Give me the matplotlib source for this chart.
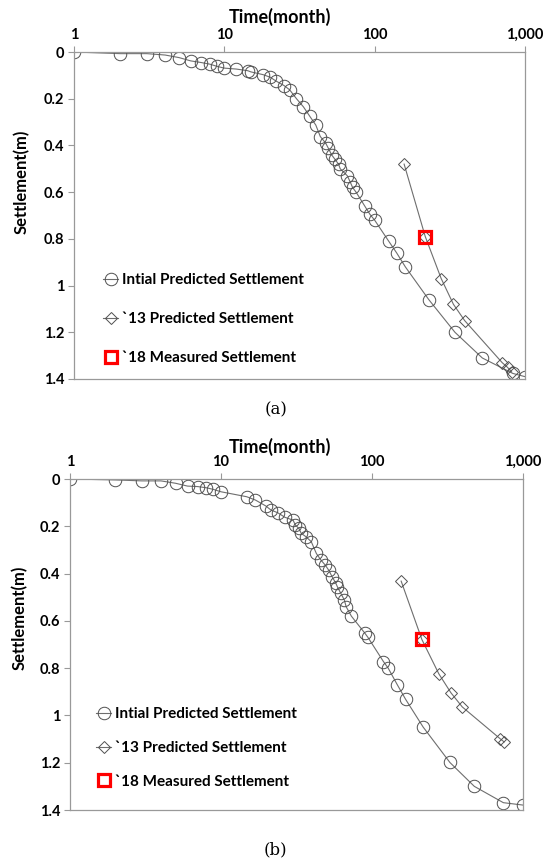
import matplotlib
matplotlib.use("Agg")
import matplotlib.pyplot as plt
from matplotlib.ticker import FixedLocator, FixedFormatter

plt.rcParams['font.family'] = ['Lato', 'DejaVu Sans']

# panel (a) data
a_init_t = [1, 2.03, 3.05, 4.04, 5.0, 5.97, 7.0, 8.0, 9.0, 10, 12, 14.3, 15, 18.1, 20.2, 21.9, 25, 27.2,
            30.2, 33.6, 37, 40.6, 43.5, 47.2, 49, 51.7, 54.5, 57.5, 59, 65.8, 68.7, 71.3, 75.2, 86, 93,
            100, 124, 140, 160, 229, 342, 520, 829, 1000]
a_init_s = [0, 0.007, 0.007, 0.013, 0.024, 0.038, 0.045, 0.052, 0.062, 0.069, 0.073, 0.080, 0.085,
            0.097, 0.108, 0.123, 0.144, 0.162, 0.2, 0.235, 0.275, 0.313, 0.362, 0.39, 0.41, 0.44, 0.46,
            0.48, 0.50, 0.53, 0.556, 0.58, 0.60, 0.66, 0.695, 0.72, 0.81, 0.86, 0.92, 1.06, 1.20, 1.31,
            1.376, 1.39]
a_pred13_t = [157, 217, 277, 334, 397, 705, 765, 815]
a_pred13_s = [0.48, 0.79, 0.97, 1.08, 1.15, 1.33, 1.35, 1.37]
a_meas18_t = [217]
a_meas18_s = [0.79]

# panel (b) data
b_init_t = [1, 2, 3, 4, 5, 6, 7, 8, 8.9, 10, 14.8, 16.9, 19.8, 21.4, 23.8, 26.5, 30, 31.1, 32.8, 34,
            36.5, 39.6, 42.8, 45.9, 49, 51.6, 54.5, 57.5, 59, 62.2, 65.6, 67.4, 73, 89.4, 93.8, 119,
            128, 147, 167, 218, 328, 476, 741, 995]
b_init_s = [0, 0.004, 0.008, 0.008, 0.018, 0.03, 0.032, 0.037, 0.044, 0.054, 0.075, 0.089, 0.114,
            0.131, 0.143, 0.162, 0.174, 0.195, 0.209, 0.23, 0.244, 0.265, 0.315, 0.343, 0.364, 0.385,
            0.414, 0.44, 0.456, 0.484, 0.512, 0.54, 0.58, 0.651, 0.669, 0.772, 0.80, 0.87, 0.932,
            1.049, 1.199, 1.30, 1.369, 1.379]
b_pred13_t = [156, 214, 277, 333, 396, 704, 750]
b_pred13_s = [0.432, 0.679, 0.824, 0.904, 0.964, 1.098, 1.112]
b_meas18_t = [214]
b_meas18_s = [0.675]

x_ticks = [1, 10, 100, 1000]
x_labels = ["1", "10", "100", "1,000"]
y_ticks = [0, 0.2, 0.4, 0.6, 0.8, 1.0, 1.2, 1.4]
y_labels = ["0", "0.2", "0.4", "0.6", "0.8", "1", "1.2", "1.4"]

labels = ["Intial Predicted Settlement", "`13 Predicted Settlement", "`18 Measured Settlement"]

W, H = 549, 861
fig = plt.figure(figsize=(W / 100, H / 100), dpi=100)

LINE = "#6e6e6e"
EDGE = "#505050"
SPINE = "#999999"


def panel(rect, it, is_, pt, ps, mt, ms, leg_xy, spacing, title_y, ylab_xy, cap_xy, cap):
    ax = fig.add_axes(rect)
    ax.plot(it, is_, color=LINE, lw=0.8, marker='o', ms=9, mfc='none', mec=EDGE, mew=0.7,
            label=labels[0])
    ax.plot(pt, ps, color=LINE, lw=0.8, marker='D', ms=5.8, mfc='none', mec=EDGE, mew=0.7,
            label=labels[1])
    ax.plot(mt, ms, ls='none', marker='s', ms=9, mfc='none', mec='#ff0000', mew=2.3,
            label=labels[2])
    ax.set_xscale('log')
    ax.set_xlim(1, 1000)
    ax.set_ylim(1.4, 0)
    ax.xaxis.set_major_locator(FixedLocator(x_ticks))
    ax.xaxis.set_major_formatter(FixedFormatter(x_labels))
    ax.xaxis.set_minor_locator(FixedLocator([]))
    ax.set_yticks(y_ticks)
    ax.set_yticklabels(y_labels)
    ax.xaxis.tick_top()
    ax.tick_params(axis='both', direction='out', length=4, width=0.8, color=SPINE,
                   labelsize=10.5, pad=3)
    for lbl in ax.get_xticklabels() + ax.get_yticklabels():
        lbl.set_fontweight('bold')
    for s in ax.spines.values():
        s.set_color(SPINE)
        s.set_linewidth(0.9)
    fig.text(0.51, title_y, "Time(month)", ha='center', va='center', fontsize=13,
             fontweight='bold')
    fig.text(ylab_xy[0], ylab_xy[1], "Settlement(m)", ha='center', va='center',
             rotation=90, fontsize=12, fontweight='bold')
    ax.legend(loc='upper left', bbox_to_anchor=leg_xy, bbox_transform=fig.transFigure,
              frameon=False, handlelength=1.0, handletextpad=0.25, labelspacing=spacing,
              borderpad=0, borderaxespad=0, prop={'weight': 'bold', 'size': 11})
    fig.text(cap_xy[0], cap_xy[1], cap, ha='center', va='center', fontsize=12,
             family=['DejaVu Serif'])
    return ax


panel([74 / W, 1 - 379 / H, 451 / W, 327 / H], a_init_t, a_init_s, a_pred13_t, a_pred13_s,
      a_meas18_t, a_meas18_s, (103 / W, 1 - 273 / H), 1.65, 1 - 17 / H, (22 / W, 1 - 182 / H),
      (276 / W, 1 - 410 / H), "(a)")
panel([70 / W, 1 - 810 / H, 453 / W, 331 / H], b_init_t, b_init_s, b_pred13_t, b_pred13_s,
      b_meas18_t, b_meas18_s, (96 / W, 1 - 707 / H), 1.3, 1 - 447 / H, (20 / W, 1 - 618 / H),
      (275 / W, 1 - 850 / H), "(b)")

fig.savefig("out.png", dpi=100)
